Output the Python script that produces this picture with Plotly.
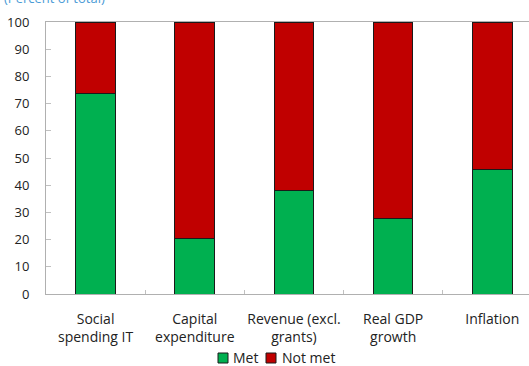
import plotly.graph_objects as go

categories = ["Social<br>spending IT", "Capital<br>expenditure", "Revenue (excl.<br>grants)",
              "Real GDP<br>growth", "Inflation"]
met = [73.7, 20.5, 37.9, 27.8, 45.8]
not_met = [100 - v for v in met]
y_ticks = list(range(0, 101, 10))
series_names = ["Met", "Not met"]
series_colors = ["#00b050", "#c00000"]

FONT = "Open Sans, Noto Sans, sans-serif"
W, H = 529, 366
L, R, T, B = 46, 0, 22, 72
PW, PH = W - L - R, H - T - B


def px_x(x):
    return (x - L) / PW


def px_y(y):
    return (H - B - y) / PH


fig = go.Figure()
for vals, name, col in zip([met, not_met], series_names, series_colors):
    fig.add_trace(go.Bar(x=categories, y=vals, name=name, marker_color=col,
                         marker_line=dict(color="#1a1a1a", width=1), width=0.4))

# compact legend at the bottom: outlined swatches with labels
shapes, annotations = [], []
legend_items = [(218, 232), (266, 281)]
for (sx, tx), name, col in zip(legend_items, series_names, series_colors):
    shapes.append(dict(type="rect", xref="paper", yref="paper",
                       x0=px_x(sx), x1=px_x(sx + 10), y0=px_y(363), y1=px_y(353),
                       fillcolor=col, line=dict(color="#1a1a1a", width=1)))
    annotations.append(dict(text=name, xref="paper", yref="paper", x=px_x(tx), y=px_y(357),
                            xanchor="left", yanchor="middle", showarrow=False, borderpad=0,
                            font=dict(size=14, color="#222222")))

annotations.append(dict(text="(Percent of total)", xref="paper", yref="paper",
                        x=px_x(107), y=1.0, xanchor="right", yanchor="bottom", yshift=13,
                        showarrow=False, font=dict(size=13, color="#4a9bd6")))

fig.update_layout(
    barmode="stack",
    width=W, height=H,
    margin=dict(l=L, r=R, t=T, b=B, autoexpand=False),
    paper_bgcolor="white", plot_bgcolor="white",
    font=dict(family=FONT, size=13, color="#222222"),
    showlegend=False,
    xaxis=dict(range=[-0.5, 4.37], showline=True, linecolor="#b0b0b0", linewidth=1,
               mirror=True, ticks="inside", tickson="boundaries", ticklen=4,
               tickcolor="#c0c0c0", showgrid=False, tickfont=dict(size=14),
               tickangle=0, automargin=False, ticklabelstandoff=12),
    yaxis=dict(range=[0, 100], tickvals=y_ticks, showline=True, linecolor="#b0b0b0",
               linewidth=1, ticks="inside", ticklen=5, tickcolor="#c0c0c0",
               showgrid=False, zeroline=False, tickfont=dict(size=13),
               automargin=False, ticklabelstandoff=13),
    shapes=shapes,
    annotations=annotations,
)

fig.write_html("out.html")
